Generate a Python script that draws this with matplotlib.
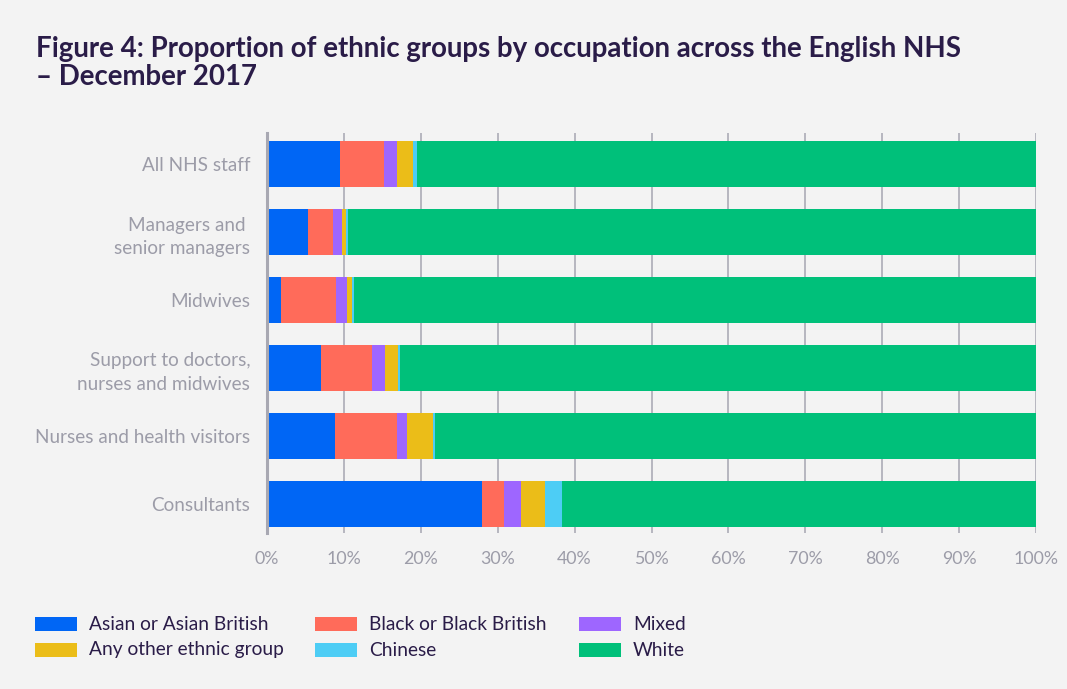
import matplotlib.pyplot as plt
from matplotlib.patches import Rectangle

plt.rcParams['font.family'] = ['Lato', 'DejaVu Sans']

categories = ['All NHS staff', 'Managers and \nsenior managers', 'Midwives',
              'Support to doctors,\nnurses and midwives',
              'Nurses and health visitors', 'Consultants']

groups = ['Asian or Asian British', 'Black or Black British', 'Mixed',
          'Any other ethnic group', 'Chinese', 'White']

asian = [9.5, 5.3, 1.8, 7.0, 8.85, 28.0]
black = [5.7, 3.3, 7.2, 6.6, 8.05, 2.8]
mixed = [1.7, 1.15, 1.4, 1.75, 1.3, 2.2]
other = [2.1, 0.55, 0.65, 1.65, 3.4, 3.2]
chinese = [0.5, 0.25, 0.25, 0.3, 0.25, 2.1]
white = [80.5, 89.45, 88.7, 82.7, 78.15, 61.7]

series = [asian, black, mixed, other, chinese, white]
colors = ['#0066f5', '#ff6b5a', '#9e66ff', '#ebbd18', '#4dcdf5', '#00c07a']

bg = '#f3f3f3'
navy = '#2a1c48'
grey = '#9c9ca8'

W, H = 1067, 689
fig = plt.figure(figsize=(W / 100, H / 100), dpi=100, facecolor=bg)
ax = fig.add_axes([267 / W, 1 - 533 / H, 769 / W, 400 / H])
ax.set_facecolor(bg)

y = list(range(len(categories)))
left = [0] * len(categories)
for vals, col, name in zip(series, colors, groups):
    ax.barh(y, vals, left=left, height=0.68, color=col, label=name, zorder=3)
    left = [l + v for l, v in zip(left, vals)]

ax.set_xlim(0, 100)
ax.set_ylim(5.43, -0.46)
ax.set_xticks(range(0, 101, 10))
ax.set_xticklabels([f'{t}%' for t in range(0, 101, 10)])
ax.set_yticks(y)
ax.set_yticklabels(categories, linespacing=1.45)
ax.grid(axis='x', color='#acacb6', linewidth=1.2, zorder=0)
for s in ['top', 'right', 'bottom']:
    ax.spines[s].set_visible(False)
ax.spines['left'].set_color('#a8a8b2')
ax.spines['left'].set_linewidth(2.2)
ax.spines['left'].set_zorder(4)
ax.tick_params(axis='x', length=0, pad=13, labelsize=12.8, labelcolor=grey)
ax.tick_params(axis='y', length=0, pad=12, labelsize=13.6, labelcolor=grey)

title_lines = ['Figure 4: Proportion of ethnic groups by occupation across the English NHS',
               '– December 2017']
for line, base in zip(title_lines, [57, 85]):
    fig.text(36 / W, 1 - base / H, line, fontsize=19.9, fontweight='bold',
             color=navy, va='baseline', ha='left')

# legend drawn by hand in figure pixels
leg_x = [35, 315, 579]
leg_y = [624, 650]
for i, (name, col) in enumerate(zip(groups, colors)):
    px = leg_x[i % 3]
    py = leg_y[i // 3]
    fig.patches.append(Rectangle((px / W, 1 - (py + 6.7) / H), 42 / W, 13.4 / H,
                                 transform=fig.transFigure, facecolor=col,
                                 edgecolor='none'))
    fig.text((px + 54) / W, 1 - py / H, name, fontsize=13.8, color=navy,
             va='center', ha='left')

plt.savefig('out.png', dpi=100, facecolor=bg)
